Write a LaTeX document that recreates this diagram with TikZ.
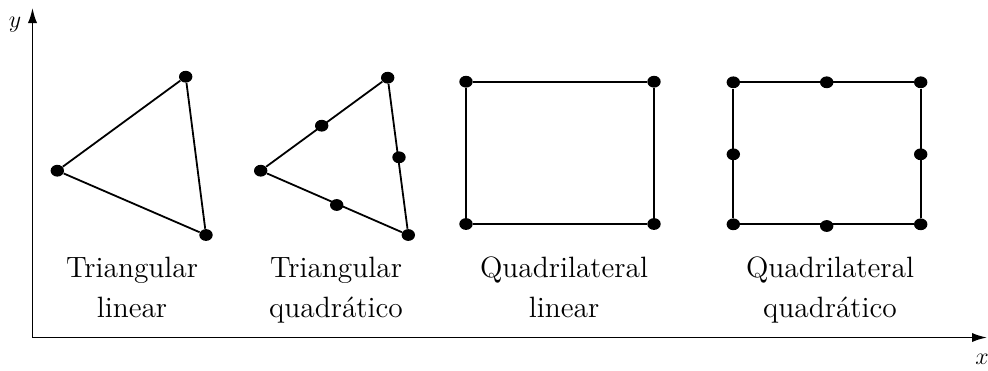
\documentclass[tikz,border=0pt]{standalone}
\usepackage{fontspec}
\usetikzlibrary{shapes.geometric,arrows.meta}
\begin{document}
\begin{tikzpicture}[x=0.5pt,y=-0.5pt,
  dot/.style={ellipse,fill=black,inner sep=0pt,minimum width=6.7pt,minimum height=5.9pt},
  edge/.style={line width=0.9pt,black},
  axis/.style={line width=0.85pt,black,-{Latex[length=7.5pt,width=4.6pt]}},
  lbl/.style={align=center,anchor=north,inner sep=0pt,font=\fontsize{14.7}{20}\selectfont},
  axlbl/.style={inner sep=0pt,font=\fontsize{12}{14}\selectfont}]
\useasboundingbox (0,0) rectangle (988,370);
% axes
\coordinate (o) at (32.5,337.5);
\coordinate (yt) at (32.5,8);
\coordinate (xt) at (987,337.5);
\draw[axis] (o) -- (yt);
\draw[axis] (o) -- (xt);
\node[axlbl] (ylab) at (15,25) {$y$};
\node[axlbl] (xlab) at (982,359) {$x$};
% triangular linear
\node[dot] (a1) at (57.3,170.7) {};
\node[dot] (a2) at (185.7,76.7) {};
\node[dot] (a3) at (206,235) {};
\draw[edge] (a1) -- (a2) -- (a3) -- (a1);
% triangular quadratic
\node[dot] (b1) at (260.7,170.7) {};
\node[dot] (b2) at (387.7,77.7) {};
\node[dot] (b3) at (408.3,235) {};
\draw[edge] (b1) -- (b2) -- (b3) -- (b1);
\node[dot] (b12) at (321.7,125.7) {};
\node[dot] (b23) at (399,157.3) {};
\node[dot] (b31) at (336.7,205) {};
% quadrilateral linear
\node[dot] (c1) at (466,81.7) {};
\node[dot] (c2) at (654,81.7) {};
\node[dot] (c3) at (654,224) {};
\node[dot] (c4) at (466,224) {};
\draw[edge] (c1) -- (c2) -- (c3) -- (c4) -- (c1);
% quadrilateral quadratic
\node[dot] (d1) at (733.3,82.3) {};
\node[dot] (d2) at (920.7,82.3) {};
\node[dot] (d3) at (920.7,224.3) {};
\node[dot] (d4) at (733.3,224.3) {};
\draw[edge] (d1) -- (d2) -- (d3) -- (d4) -- (d1);
\node[dot] (d12) at (826.7,82.3) {};
\node[dot] (d23) at (920.7,154.3) {};
\node[dot] (d34) at (826.7,226) {};
\node[dot] (d41) at (733.3,154.3) {};
% labels
\node[lbl] (t1) at (132,256.6) {Triangular\\linear};
\node[lbl] (t2) at (336,256.6) {Triangular\\quadrático};
\node[lbl] (t3) at (564,256.6) {Quadrilateral\\linear};
\node[lbl] (t4) at (830,256.6) {Quadrilateral\\quadrático};
\end{tikzpicture}
\end{document}
